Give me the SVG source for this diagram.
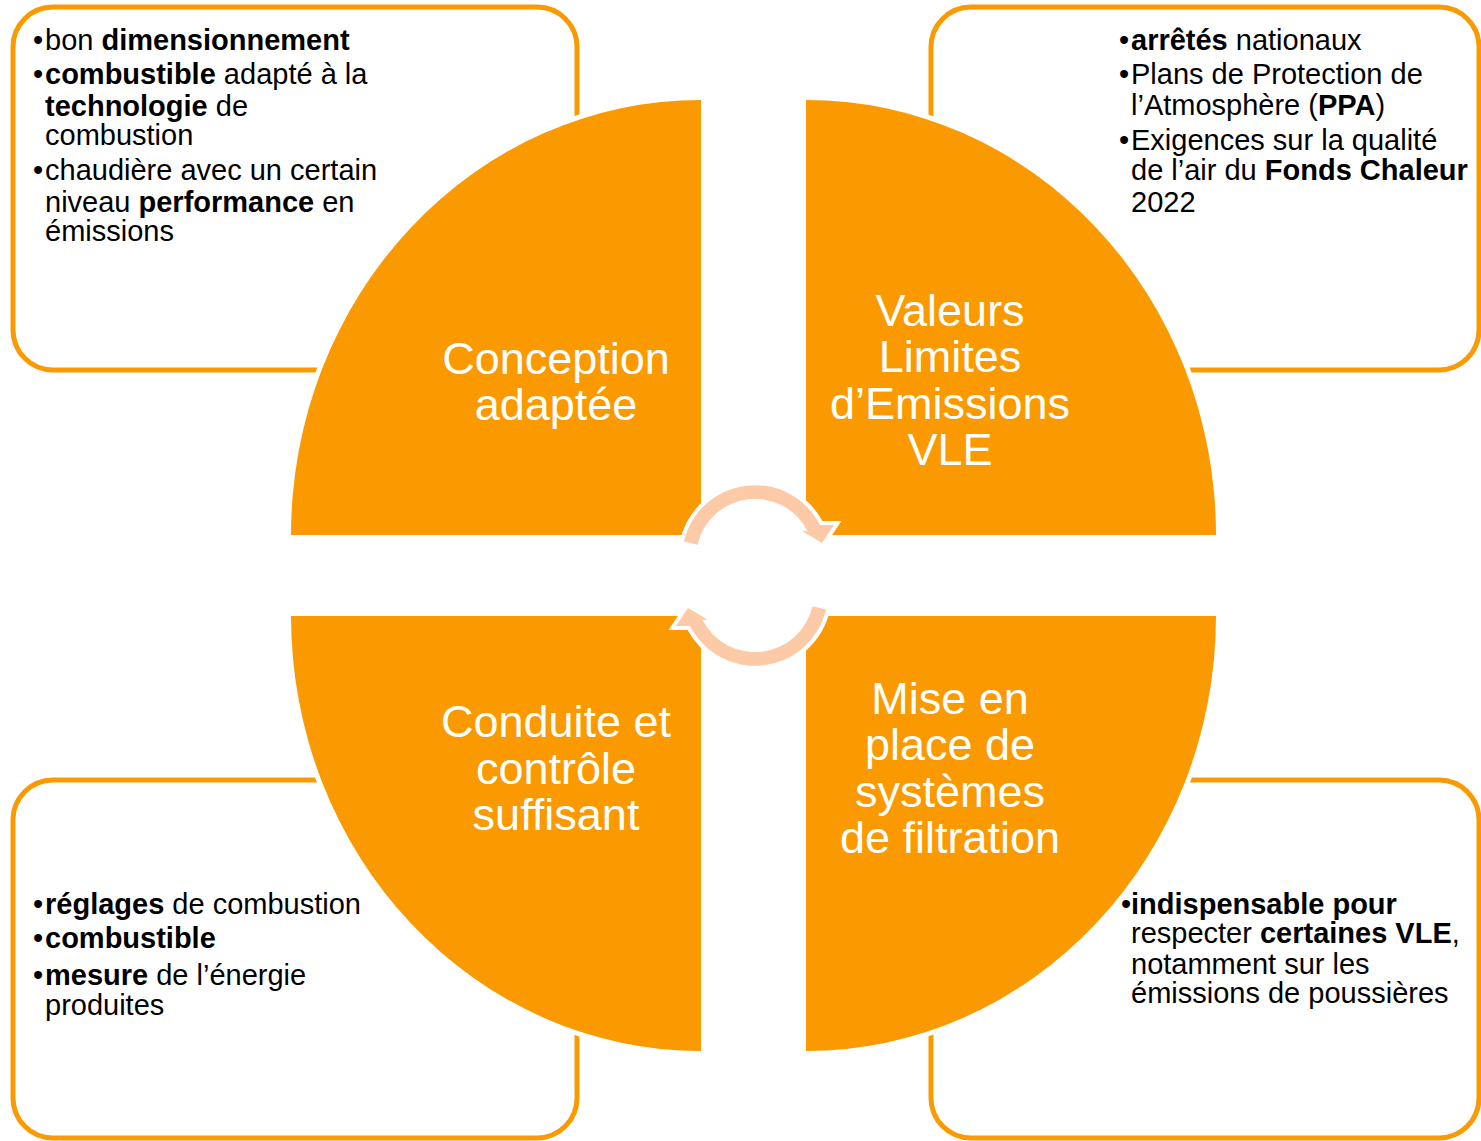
<svg xmlns="http://www.w3.org/2000/svg" width="1481" height="1141" viewBox="0 0 1481 1141">
<style>
.box{fill:#fff;stroke:#FA9A00;stroke-width:5}
.pie{fill:#FA9A00;stroke:#fff;stroke-width:10;paint-order:stroke}
.lbl{font-family:"Liberation Sans",Arial,sans-serif;font-size:45px;fill:#fff;text-anchor:middle}
.txt{font-family:"Liberation Sans",Arial,sans-serif;font-size:29px;fill:#000}
.b{font-weight:bold}
.arr{fill:#FDCAA8;stroke:#fff;stroke-width:8;paint-order:stroke;stroke-linejoin:miter}
</style>
<rect width="1481" height="1141" fill="#fff"/>
<g id="node-conception">
<rect class="box" x="13" y="7" width="564" height="363" rx="40"/>
<path class="pie" d="M701,535 H291 A410,435 0 0 1 701,100 Z"/>
<text class="lbl" x="556"><tspan x="556" y="374">Conception</tspan><tspan x="556" y="420">adaptée</tspan></text>
<text class="txt"><tspan x="33" y="50">•</tspan><tspan x="45" y="50">bon <tspan class="b">dimensionnement</tspan></tspan></text>
<text class="txt"><tspan x="33" y="84">•</tspan><tspan x="45" y="84"><tspan class="b">combustible</tspan> adapté à la</tspan><tspan x="45" y="116"><tspan class="b">technologie</tspan> de</tspan><tspan x="45" y="145">combustion</tspan></text>
<text class="txt"><tspan x="33" y="180">•</tspan><tspan x="45" y="180">chaudière avec un certain</tspan><tspan x="45" y="212">niveau <tspan class="b">performance</tspan> en</tspan><tspan x="45" y="241">émissions</tspan></text>
</g>
<g id="node-vle">
<rect class="box" x="931" y="7" width="548" height="363" rx="40"/>
<path class="pie" d="M806,535 V100 A410,435 0 0 1 1216,535 Z"/>
<text class="lbl"><tspan x="950" y="326">Valeurs</tspan><tspan x="950" y="372">Limites</tspan><tspan x="950" y="419">d’Emissions</tspan><tspan x="950" y="465">VLE</tspan></text>
<text class="txt"><tspan x="1119" y="50">•</tspan><tspan x="1131" y="50"><tspan class="b">arrêtés</tspan> nationaux</tspan></text>
<text class="txt"><tspan x="1119" y="84">•</tspan><tspan x="1131" y="84">Plans de Protection de</tspan><tspan x="1131" y="115">l’Atmosphère (<tspan class="b">PPA</tspan>)</tspan></text>
<text class="txt"><tspan x="1119" y="150">•</tspan><tspan x="1131" y="150">Exigences sur la qualité</tspan><tspan x="1131" y="180">de l’air du <tspan class="b">Fonds Chaleur</tspan></tspan><tspan x="1131" y="212">2022</tspan></text>
</g>
<g id="node-conduite">
<rect class="box" x="13" y="780" width="564" height="358" rx="40"/>
<path class="pie" d="M701,616 V1051 A410,435 0 0 1 291,616 Z"/>
<text class="lbl"><tspan x="556" y="737">Conduite et</tspan><tspan x="556" y="784">contrôle</tspan><tspan x="556" y="830">suffisant</tspan></text>
<text class="txt"><tspan x="33" y="914">•</tspan><tspan x="45" y="914"><tspan class="b">réglages</tspan> de combustion</tspan></text>
<text class="txt"><tspan x="33" y="948">•</tspan><tspan x="45" y="948" class="b">combustible</tspan></text>
<text class="txt"><tspan x="33" y="985">•</tspan><tspan x="45" y="985"><tspan class="b">mesure</tspan> de l’énergie</tspan><tspan x="45" y="1015">produites</tspan></text>
</g>
<g id="node-filtration">
<rect class="box" x="931" y="780" width="548" height="358" rx="40"/>
<path class="pie" d="M806,616 H1216 A410,435 0 0 1 806,1051 Z"/>
<text class="lbl"><tspan x="950" y="714">Mise en</tspan><tspan x="950" y="760">place de</tspan><tspan x="950" y="807">systèmes</tspan><tspan x="950" y="853">de filtration</tspan></text>
<text class="txt"><tspan x="1121" y="914">•</tspan><tspan x="1131" y="914" class="b">indispensable pour</tspan><tspan x="1131" y="943">respecter <tspan class="b">certaines VLE</tspan>,</tspan><tspan x="1131" y="974">notamment sur les</tspan><tspan x="1131" y="1003">émissions de poussières</tspan></text>
</g>
<g id="connectors">
<path class="arr" d="M683.9,541.6 A73,73 0 0 1 820,524.9 L834,525 L822,543 L802,531 L807.6,531.2 A59,59 0 0 0 697.5,544.7 Z"/>
<path class="arr" d="M826.1,609.4 A73,73 0 0 1 690,626.1 L676,626 L688,608 L708,620 L702.4,619.8 A59,59 0 0 0 812.5,606.3 Z"/>
</g>
</svg>
